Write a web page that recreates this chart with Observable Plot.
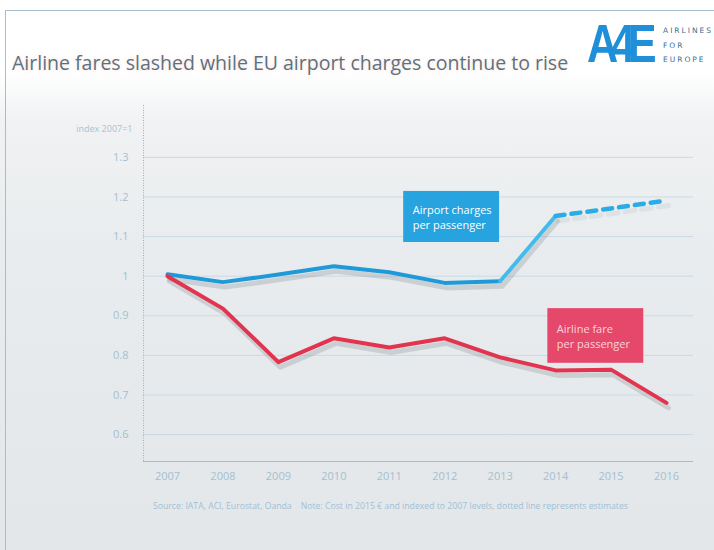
<!DOCTYPE html>
<html>
<head>
<meta charset="utf-8">
<script src="https://cdn.jsdelivr.net/npm/d3@7"></script>
<script src="https://cdn.jsdelivr.net/npm/@observablehq/plot@0.6"></script>
<style>
  html, body { margin: 0; padding: 0; }
  body { width: 714px; height: 550px; overflow: hidden; font-family: "Open Sans", sans-serif; }
  #card {
    position: relative; width: 714px; height: 550px; overflow: hidden;
    background: linear-gradient(to bottom, #ffffff 0%, #ffffff 13%, #f0f2f3 22%, #e9ecee 45%, #e3e7e9 100%);
  }
  #border { position: absolute; left: 5px; top: 10px; width: 760px; height: 600px;
    border-top: 1.5px solid #a9bccb; border-left: 1.5px solid #a9bccb; }
  #header { position: relative; height: 100px; }
  #title { position: absolute; left: 12px; top: 49px; font-size: 19.5px; color: #5c7180;
    white-space: nowrap; text-shadow: 0 0 4px rgba(240,170,140,0.35); }
  #logo { position: absolute; left: 587px; top: 16px; }
  #logoMark { position: absolute; left: 0; top: 0; font-family: "Liberation Sans", sans-serif; font-weight: bold;
    font-size: 54px; color: #1e8fd8; letter-spacing: -9px; line-height: 54px; white-space: nowrap;
    transform: scaleX(0.8); transform-origin: left top; }
  #logoText { position: absolute; left: 76px; top: 8px; font-family: "DejaVu Sans", sans-serif; font-size: 7.5px;
    letter-spacing: 2px; color: #3a6f95; line-height: 14.5px; white-space: nowrap; }
  #chart svg { display: block; }
  #caption { position: absolute; left: 153px; top: 500px; font-size: 8.7px; color: #9fc0d6; white-space: nowrap; }
</style>
</head>
<body>
<div id="card">
  <div id="border"></div>
  <div id="header">
    <div id="title">Airline fares slashed while EU airport charges continue to rise</div>
    <div id="logo"><div id="logoMark">A4E</div><div id="logoText">AIRLINES<br>FOR<br>EUROPE</div></div>
  </div>
  <div id="chart"></div>
  <div id="caption">Source: IATA, ACI, Eurostat, Oanda &nbsp;&nbsp; Note: Cost in 2015 € and indexed to 2007 levels, dotted line represents estimates</div>
</div>
<script>
const years = [2007, 2008, 2009, 2010, 2011, 2012, 2013, 2014, 2015, 2016];
const airportCharges = [1.005, 0.985, 1.004, 1.025, 1.010, 0.983, 0.987, 1.152, null, null];
const airportEstimates = [null, null, null, null, null, null, null, 1.152, 1.171, 1.191];
const airlineFare = [1.000, 0.918, 0.783, 0.843, 0.820, 0.843, 0.795, 0.762, 0.764, 0.680];
const yTicks = [0.6, 0.7, 0.8, 0.9, 1, 1.1, 1.2, 1.3];
const yLabel = "index 2007=1";
const labels = [
  {text: "Airport charges\nper passenger", x1: 2011.26, x2: 2012.99, y1: 1.085, y2: 1.214, fill: "#27a3df", color: "#ffffff"},
  {text: "Airline fare\nper passenger", x1: 2013.86, x2: 2015.59, y1: 0.78, y2: 0.918, fill: "#e5486a", color: "#fbd3dc"}
];

const xDomain = [2006.567, 2016.487];
const yDomain = [0.532, 1.431];

const charges = years.map((year, i) => ({year, value: airportCharges[i]})).filter(d => d.value != null);
const chargesA = charges.filter(d => d.year <= 2013);
const chargesB = charges.filter(d => d.year >= 2013);
const estimates = years.map((year, i) => ({year, value: airportEstimates[i]})).filter(d => d.value != null);
const fare = years.map((year, i) => ({year, value: airlineFare[i]}));

const shadow = {x: "year", y: "value", stroke: "#7f8a90", strokeOpacity: 0.28, strokeWidth: 5, dx: 2, dy: 5, strokeLinejoin: "round"};

const chart = Plot.plot({
  width: 714,
  height: 395,
  marginLeft: 143,
  marginRight: 21,
  marginTop: 5,
  marginBottom: 34,
  style: {background: "transparent", color: "#a3bfd1", fontSize: "11px", fontFamily: "Open Sans, sans-serif"},
  x: {domain: xDomain, ticks: years, tickFormat: d => String(d), tickSize: 0, tickPadding: 11, label: null},
  y: {domain: yDomain, ticks: yTicks, tickFormat: d => String(d), tickSize: 0, tickPadding: 15, label: null},
  marks: [
    Plot.ruleY(yTicks, {stroke: "#c9dbe7", strokeWidth: 1}),
    Plot.ruleX([xDomain[0]], {stroke: "#8fb3cc", strokeDasharray: "1,1.5", strokeWidth: 1}),
    Plot.ruleY([yDomain[0]], {stroke: "#9dbdd3", strokeWidth: 1.2}),
    Plot.text([yLabel], {frameAnchor: "top-left", dx: -11, dy: 20, textAnchor: "end", fontSize: 9, fill: "#a9c2d2"}),
    Plot.line(charges, shadow),
    Plot.line(fare, shadow),
    Plot.line(estimates, {...shadow, strokeOpacity: 0.12, strokeDasharray: "10,7"}),
    Plot.line(chargesA, {x: "year", y: "value", stroke: "#1f99d7", strokeWidth: 4, strokeLinejoin: "round"}),
    Plot.line(chargesB, {x: "year", y: "value", stroke: "#45bbe9", strokeWidth: 4, strokeLinejoin: "round"}),
    Plot.line(estimates, {x: "year", y: "value", stroke: "#2aade6", strokeWidth: 4.5, strokeDasharray: "9,7", strokeLinecap: "round"}),
    Plot.line(fare, {x: "year", y: "value", stroke: "#e2344f", strokeWidth: 4, strokeLinejoin: "round"}),
    Plot.rect(labels, {x1: "x1", x2: "x2", y1: "y1", y2: "y2", fill: "fill"}),
    Plot.text(labels, {x: "x1", y: d => (d.y1 + d.y2) / 2, text: "text", dx: 9, textAnchor: "start", fill: "color", fontSize: 11, lineHeight: 1.3})
  ]
});
document.getElementById("chart").appendChild(chart);
</script>
</body>
</html>
